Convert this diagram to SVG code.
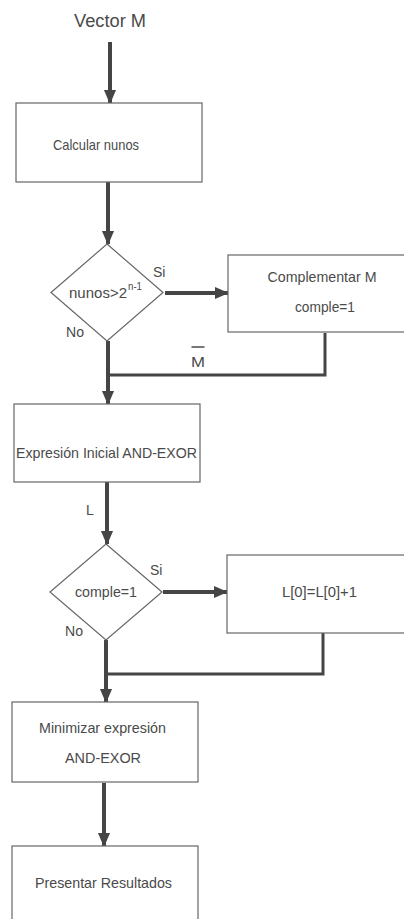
<svg xmlns="http://www.w3.org/2000/svg" width="404" height="919" viewBox="0 0 404 919">
  <style>
    .box { fill: #fff; stroke: #666; stroke-width: 1.2; }
    .flow { fill: none; stroke: #454545; stroke-width: 4; }
    .back { fill: none; stroke: #454545; stroke-width: 3; }
    text { font-family: "Liberation Sans", Arial, sans-serif; fill: #4a4a4a; }
    .lbl { font-size: 15px; text-anchor: middle; }
    .tag { font-size: 14px; }
  </style>
  <defs>
    <marker id="head" markerUnits="userSpaceOnUse" markerWidth="14" markerHeight="16" refX="15" refY="7" viewBox="0 0 16 14" orient="auto">
      <path d="M0,0 L16,7 L0,14 Z" fill="#454545"/>
    </marker>
  </defs>
  <rect width="404" height="919" fill="#fff"/>

  <!-- connectors -->
  <g id="connectors">
    <line class="flow" x1="110" y1="42" x2="110" y2="103" marker-end="url(#head)"/>
    <line class="flow" x1="108" y1="182" x2="108" y2="244" marker-end="url(#head)"/>
    <line class="flow" x1="165" y1="293" x2="228" y2="293" marker-end="url(#head)"/>
    <polyline class="back" points="325,333 325,375 108,375"/>
    <line class="flow" x1="108" y1="341" x2="108" y2="404" marker-end="url(#head)"/>
    <line class="flow" x1="107" y1="482" x2="107" y2="544" marker-end="url(#head)"/>
    <line class="flow" x1="163" y1="592" x2="227" y2="592" marker-end="url(#head)"/>
    <polyline class="back" points="323,633 323,674 106,674"/>
    <line class="flow" x1="106" y1="640" x2="106" y2="702" marker-end="url(#head)"/>
    <line class="flow" x1="104" y1="783" x2="104" y2="846" marker-end="url(#head)"/>
    <text class="tag" x="86" y="515" font-size="16">L</text>
    <text class="tag" x="191" y="367" font-size="16" textLength="14" lengthAdjust="spacingAndGlyphs">M</text>
    <line x1="191.5" y1="347" x2="204.5" y2="347" stroke="#4a4a4a" stroke-width="1.5"/>
  </g>

  <text id="start" x="110" y="27" font-size="18" text-anchor="middle" textLength="72" lengthAdjust="spacingAndGlyphs">Vector M</text>

  <g id="calcular">
    <rect class="box" x="16" y="103" width="186" height="79"/>
    <text class="lbl" x="96" y="150" textLength="86" lengthAdjust="spacingAndGlyphs">Calcular nunos</text>
  </g>

  <g id="decision1">
    <polygon class="box" points="107,244 163,292.5 107,341 51,292.5"/>
    <text x="69" y="298" font-size="15" textLength="58" lengthAdjust="spacingAndGlyphs">nunos&gt;2</text>
    <text x="128" y="290" font-size="11" textLength="14" lengthAdjust="spacingAndGlyphs">n-1</text>
    <text class="tag" x="153" y="277">Si</text>
    <text class="tag" x="66" y="337" textLength="18" lengthAdjust="spacingAndGlyphs">No</text>
  </g>

  <g id="complementar">
    <rect class="box" x="228" y="255" width="190" height="77"/>
    <text class="lbl" x="322" y="282" textLength="109" lengthAdjust="spacingAndGlyphs">Complementar M</text>
    <text class="lbl" x="325" y="312" textLength="60" lengthAdjust="spacingAndGlyphs">comple=1</text>
  </g>

  <g id="expresion">
    <rect class="box" x="14" y="404" width="186" height="78"/>
    <text class="lbl" x="106.5" y="458" textLength="181" lengthAdjust="spacingAndGlyphs">Expresión Inicial AND-EXOR</text>
  </g>

  <g id="decision2">
    <polygon class="box" points="106,544 162,592 106,640 50,592"/>
    <text class="lbl" x="106" y="597" textLength="62" lengthAdjust="spacingAndGlyphs">comple=1</text>
    <text class="tag" x="150" y="575">Si</text>
    <text class="tag" x="65" y="636" textLength="18" lengthAdjust="spacingAndGlyphs">No</text>
  </g>

  <g id="incremento">
    <rect class="box" x="227" y="555" width="190" height="78"/>
    <text class="lbl" x="319.5" y="597" textLength="75" lengthAdjust="spacingAndGlyphs">L[0]=L[0]+1</text>
  </g>

  <g id="minimizar">
    <rect class="box" x="12" y="702" width="186" height="80"/>
    <text class="lbl" x="102.5" y="733" textLength="127" lengthAdjust="spacingAndGlyphs">Minimizar expresión</text>
    <text class="lbl" x="103" y="763" textLength="76" lengthAdjust="spacingAndGlyphs">AND-EXOR</text>
  </g>

  <g id="presentar">
    <rect class="box" x="12" y="846" width="186" height="90"/>
    <text class="lbl" x="103.5" y="888" textLength="137" lengthAdjust="spacingAndGlyphs">Presentar Resultados</text>
  </g>
</svg>
